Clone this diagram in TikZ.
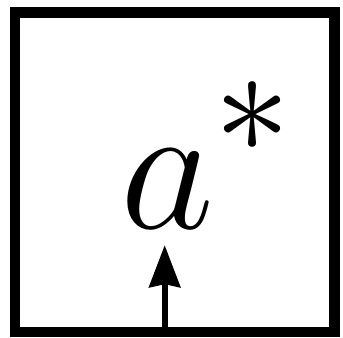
\documentclass[tikz,border=0pt]{standalone}
\usepackage{amsmath,amssymb}
\usepackage{tikz}
\usetikzlibrary{arrows.meta, positioning}

\begin{document}
\begin{tikzpicture}[
    cell/.style={draw=black, line width=0.105cm, minimum width=3.195cm,
                 minimum height=3.195cm, inner sep=0pt},
    sym/.style={font=\Huge, scale=2.09, inner sep=0.075cm},
    arr/.style={-{Stealth[length=4.2mm, width=3.1mm, inset=0.3mm]},
                line width=0.06cm, draw=black}]
\useasboundingbox (0,0) rectangle (3.43,3.37);

% BOX
\node[cell] (box) at (1.75, 1.65) {};

% LABEL
\node[sym, anchor=base] (val) at (2.07, 1.09) {$\displaystyle a^{*}$};

% Arrow up from the bottom edge
\coordinate (foot) at (1.647, 0.0525);
\draw[arr] (foot) -- (foot |- val.south);

\end{tikzpicture}
\end{document}
